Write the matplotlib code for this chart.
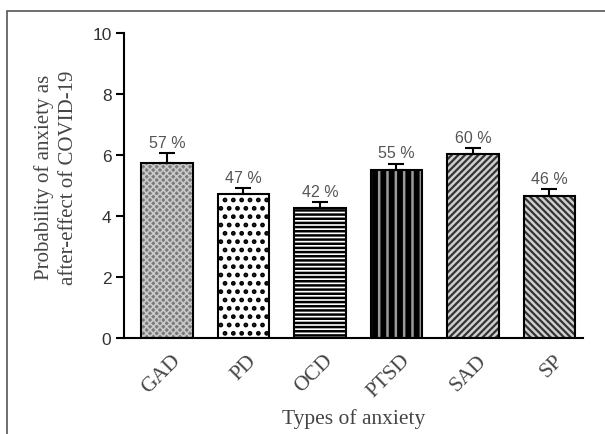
import matplotlib
matplotlib.use("Agg")
import matplotlib.pyplot as plt
from matplotlib.patches import Rectangle

categories = ["GAD", "PD", "OCD", "PTSD", "SAD", "SP"]
values = [5.75, 4.72, 4.27, 5.5, 6.02, 4.65]
errors = [0.3, 0.2, 0.2, 0.22, 0.22, 0.25]
percent_labels = ["57 %", "47 %", "42 %", "55 %", "60 %", "46 %"]
yticks = [0, 2, 4, 6, 8, 10]

fig = plt.figure(figsize=(6.05, 4.35), dpi=100)
fig.patch.set_facecolor("white")
# outer frame
fig.add_artist(Rectangle((7/605, -0.01), 1.0, 1 - 12/435 + 0.01, transform=fig.transFigure,
                         fill=False, edgecolor="#555555", linewidth=1.2))

ax = fig.add_axes([124/605, 1 - 339/435, (583 - 124)/605, (339 - 34)/435])

styles = [
    dict(facecolor="#7a7a7a", hatch="xxxxx", hcolor="#c8c8c8", hlw=1.2),
    dict(facecolor="white", hatch="..", hcolor="black", hlw=2.2),
    dict(facecolor="white", hatch="----", hcolor="black", hlw=1.8),
    dict(facecolor="black", hatch="||", hcolor="#9a9a9a", hlw=1.8),
    dict(facecolor="#cfcfcf", hatch="/////", hcolor="#333333", hlw=1.6),
    dict(facecolor="#cfcfcf", hatch="\\\\\\\\\\", hcolor="#333333", hlw=1.6),
]

x = list(range(len(categories)))
width = 0.675
for i, (v, e, s) in enumerate(zip(values, errors, styles)):
    plt.rcParams['hatch.linewidth'] = s["hlw"]
    ax.bar(i, v, width=width, facecolor=s["facecolor"], hatch=s["hatch"],
           edgecolor=s["hcolor"], linewidth=0, zorder=2)
    ax.bar(i, v, width=width, facecolor="none", edgecolor="black", linewidth=1.5, zorder=3)
    ax.errorbar(i, v, yerr=[[0], [e]], fmt="none", ecolor="black", elinewidth=1.5,
                capsize=6, capthick=1.5, zorder=4)
    ax.text(i, v + e + 0.1, percent_labels[i], ha="center", va="bottom",
            fontsize=11.5, color="#555555", family="Liberation Sans")

ax.set_xlim(-0.56, 5.44)
ax.set_ylim(0, 10)
ax.set_yticks(yticks)
ax.set_yticklabels([str(t) for t in yticks], family="Liberation Sans", fontsize=12.5, color="#333333")
ax.set_xticks([i + 0.05 for i in x])
ax.set_xticklabels(categories, rotation=45, ha="right", rotation_mode="anchor",
                   family="Liberation Serif", fontsize=15.5, color="#444444")
ax.tick_params(axis="x", length=0, pad=9)
ax.tick_params(axis="y", length=6, width=1.5, direction="out", pad=3)

for sp in ["top", "right"]:
    ax.spines[sp].set_visible(False)
for sp in ["left", "bottom"]:
    ax.spines[sp].set_linewidth(1.5)

ax.set_ylabel("Probability of anxiety as\nafter-effect of COVID-19", family="Liberation Serif",
              fontsize=15, color="#444444", linespacing=1.35)
ax.yaxis.set_label_coords(-0.10, 0.53)
ax.set_xlabel("Types of anxiety", family="Liberation Serif", fontsize=15.5, color="#444444")
ax.xaxis.set_label_coords(0.5, -0.23)

fig.savefig("out.png", dpi=100)
